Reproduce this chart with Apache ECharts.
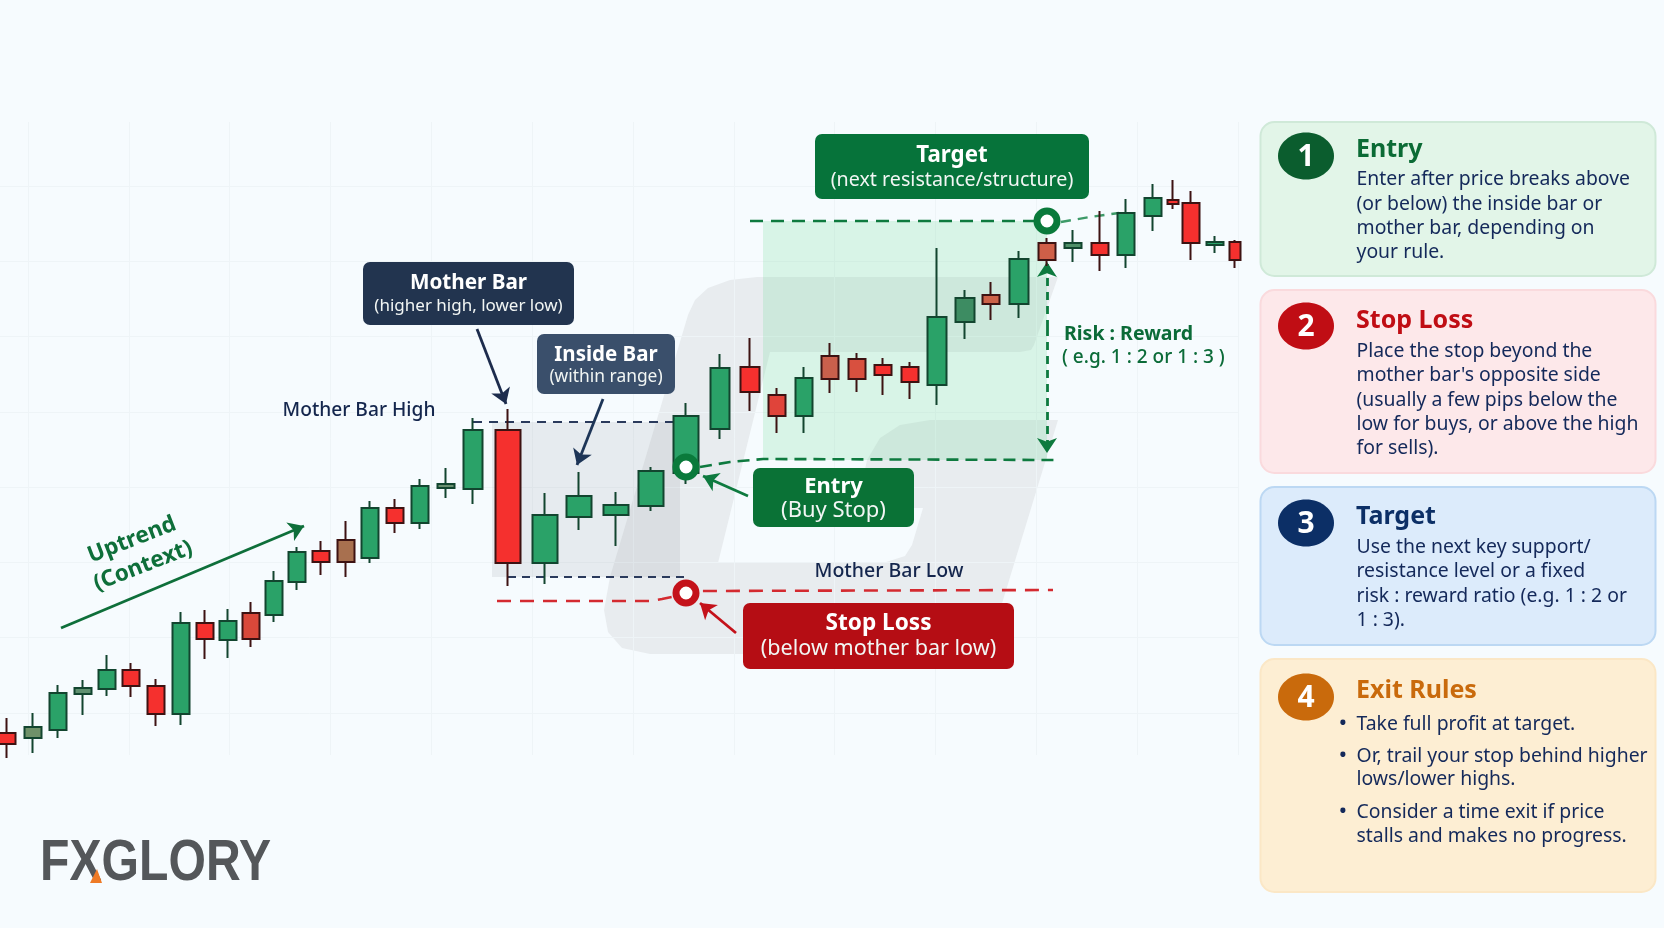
<!DOCTYPE html>
<html><head><meta charset="utf-8"><title>Inside Bar Strategy</title>
<style>html,body{margin:0;padding:0;background:#f6fbfe}#c{width:1664px;height:928px}</style>
<script src="https://cdn.jsdelivr.net/npm/echarts@6/dist/echarts.min.js"></script></head>
<body><div id="c"></div><script>
// ---------- data ----------
const sessions=[7,33,58,83,107,131,156,181,205,228,251,274,297,321,346,370,395,420,446,473,508,545,579,616,651,686,720,750,777,804,830,857,883,910,937,965,991,1019,1047,1073,1100,1126,1153,1173,1191,1215,1235];
const opens =[195,190,198,234,239,258,242,214,305,288,315,313,346,377,388,370,420,405,440,439,498,365,411,413,422,455,499,561,533,512,572,569,563,561,543,606,633,624,685,680,685,673,712,728,725,683,686];
const closes=[184,201,235,240,258,242,214,305,289,307,289,347,376,366,366,420,405,442,444,498,365,413,432,423,457,512,560,536,512,550,549,549,553,546,611,630,624,669,668,685,673,715,730,724,685,686,668];
const lows  =[170,175,190,213,232,231,202,203,269,270,281,306,338,353,351,365,395,399,430,424,342,344,398,382,417,444,489,517,495,495,535,536,533,529,523,589,608,610,662,666,657,660,697,719,668,675,660];
const highs =[210,215,243,248,273,265,249,316,318,319,326,357,381,387,407,427,429,449,460,510,519,435,456,436,461,525,574,590,540,561,585,575,570,566,680,638,646,677,690,698,717,729,744,748,737,692,688];
const wideBars=[20,21,22,23,24,25];
const midBars=[19,26,27,34,35,37];
const thinBars=[43,46];
const mutedBodies={1:'#6f9169',3:'#5f9070',10:'#d9483a',14:'#a8704f',18:'#6a9070',28:'#e0443a',30:'#c9604c',31:'#d8503f',36:'#cc6248',38:'#cf5f48',39:'#4f9068',35:'#3d8c62'};

const motherHigh=[[473,506],[675,506]];
const motherLow=[[508,351],[690,351]];
const stopLevel=[[497,327],[650,327],[662,329],[672,331],[686,335],[700,337],[1053,338]];
const entryLevel=[[700,461],[730,466],[763,469],[1056,468]];
const targetLevel=[[750,707],[1034,707]];
const targetTail=[[1061,706],[1090,711],[1119,715]];
const levelMarks=[[686,461,'#0a7a3b'],[686,335,'#c4121a'],[1047,707,'#0a7a3b']];
const arrows=[
 [61,300,304,402,'#0e6f3a',3],[477,599,506,524,'#1d2c4d',3],[603,529,577,463,'#1d3557',3],
 [748,432,703,452,'#0e7a3f',3],[736,295,700,325,'#c4121a',3],[1047,600,1047,666,'#0e7a3f',0],[1047,600,1047,475,'#0e7a3f',0]];
const shadeGrey=[[492,506],[680,351]];
const shadeGreen=[[763,707],[1047,468]];

const panelTitles=['Entry','Stop Loss','Target','Exit Rules'];
const panelNumbers=['1','2','3','4'];
const panelLines=[
 ['Enter after price breaks above','(or below) the inside bar or','mother bar, depending on','your rule.'],
 ['Place the stop beyond the',"mother bar's opposite side",'(usually a few pips below the','low for buys, or above the high','for sells).'],
 ['Use the next key support/','resistance level or a fixed','risk : reward ratio (e.g. 1 : 2 or','1 : 3).'],
 ['Take full profit at target.','Or, trail your stop behind higher','lows/lower highs.','Consider a time exit if price','stalls and makes no progress.']];
const exitBulletLines=[0,1,3];

// ---------- layout ----------
const F='"Noto Sans",sans-serif';
const txt=(text,x,y,size,fill,weight,align,extra)=>Object.assign({type:'text',x,y,z:60,silent:true,style:{text,fill,fontSize:size,fontWeight:weight||'normal',fontFamily:F,align:align||'left',verticalAlign:'middle'}},extra||{});
const g=[];
// watermark
g.push({type:'polygon',z:-5,silent:true,shape:{points:[[1058,277],[757,277],[730,280],[708,288],[695,300],[688,315],[610,577],[604,610],[608,632],[622,648],[650,654],[960,654],[980,650],[993,632],[1000,610],[1058,420],[930,420],[900,425],[880,438],[867,460],[857,508],[923,508],[912,545],[905,556],[883,563],[718,563],[770,352],[1020,352],[1031,350],[1034,345]]},style:{fill:'#e8ecef'}});
// callouts
const boxes=[
 [815,134,274,65,'#06733a','Target','(next resistance/structure)',156,180,22.3,19.7],
 [363,262,211,63,'#22344f','Mother Bar','(higher high, lower low)',283,306,20.7,17],
 [537,334,138,60,'#3a4f6b','Inside Bar','(within range)',355,377,20.5,17.4],
 [753,468,161,59,'#0a7236','Entry','(Buy Stop)',487,511,22,22],
 [743,603,271,66,'#b50d14','Stop Loss','(below mother bar low)',624,649,22.6,21.6]];
boxes.forEach(b=>{
 g.push({type:'rect',z:55,silent:true,shape:{x:b[0],y:b[1],width:b[2],height:b[3],r:7},style:{fill:b[4]}});
 g.push(txt(b[5],b[0]+b[2]/2,b[7],b[9],'#ffffff','bold','center'));
 g.push(txt(b[6],b[0]+b[2]/2,b[8],b[10],'#f2f6f4','normal','center'));
});
g.push(txt('Mother Bar High',359,411,19.2,'#14264d','500','center'));
g.push(txt('Mother Bar Low',889,571,19.5,'#14264d','500','center'));
g.push(txt('Risk : Reward',1064,334,19.5,'#0b6b38','bold','left'));
g.push(txt('( e.g. 1 : 2 or 1 : 3 )',1062,358,19,'#0b6b38','500','left'));
g.push(txt('Uptrend',132,540,22.5,'#0e6f3a','bold','center',{rotation:0.37}));
g.push(txt('(Context)',143,566,22.5,'#0e6f3a','bold','center',{rotation:0.37}));
// panels
const P=[[122,154,'#e2f5e8','#cfe9d8','#0b5d2e','#0b6b35',156,150,[179,204,228,252]],
 [290,183,'#fde8ea','#fadadd','#c00d14','#c00d14',326,321,[351,375,400,424,448]],
 [487,158,'#dcebfb','#bcd8f3','#0c2f66','#0c2f66',523,517,[547,571,596,620]],
 [659,233,'#fdeed3','#fbe7c6','#c96a0c','#c96a0c',697,691,[724,756,779,812,836]]];
P.forEach((p,i)=>{
 g.push({type:'rect',z:40,silent:true,shape:{x:1260.5,y:p[0],width:395,height:p[1],r:14},style:{fill:p[2],stroke:p[3],lineWidth:2}});
 g.push({type:'ellipse',z:50,silent:true,shape:{cx:1306,cy:p[6],rx:28,ry:23.5},style:{fill:p[4]}});
 g.push(txt(panelNumbers[i],1306,p[6]+1,30,'#ffffff','bold','center'));
 g.push(txt(panelTitles[i],1356,p[7],25,p[5],'bold'));
 panelLines[i].forEach((l,j)=>{
  g.push(txt(l,1356.5,p[8][j],19.4,'#14295a','normal'));
  if(i===3&&exitBulletLines.indexOf(j)>=0) g.push(txt('•',1343,p[8][j],18,'#14295a','bold','center'));
 });
});
// logo
g.push({type:'text',x:40,y:864,z:60,silent:true,scaleX:.845,style:{text:'FXGLORY',fontSize:57,fontWeight:'bold',fontFamily:'"Liberation Sans",sans-serif',fill:'#54575a',align:'left',verticalAlign:'middle'}});
g.push({type:'polygon',z:61,silent:true,shape:{points:[[90,883],[97,869],[102,883]]},style:{fill:'#ee7a26'}});

// ---------- series ----------
const rowOf=i=>{const r={value:[sessions[i],opens[i],closes[i],lows[i],highs[i]]};
 if(mutedBodies[i]){r.itemStyle=closes[i]>=opens[i]?{color:mutedBodies[i]}:{color0:mutedBodies[i]};}return r;};
const other=sessions.map((_,i)=>i).filter(i=>wideBars.concat(midBars,thinBars).indexOf(i)<0);
const candle=(idx,w,name)=>({type:'candlestick',name,xAxisIndex:0,yAxisIndex:0,z:5,barWidth:w,clip:false,animation:false,
 encode:{x:0,y:[1,2,3,4]},data:idx.map(rowOf),
 itemStyle:{color:'#2aa268',color0:'#f5302e',borderColor:'#12452f',borderColor0:'#3d1212',borderWidth:2}});
const level=(name,data,color,w,dash)=>({type:'line',name,xAxisIndex:0,yAxisIndex:0,z:4,symbol:'none',animation:false,silent:true,data,
 lineStyle:{color,width:w,type:dash||[9,7]}});
const series=[
 Object.assign(level('Mother bar high',motherHigh,'#2a3a5c',2),{z:3,markArea:{silent:true,z:1,data:[[{coord:shadeGrey[0],itemStyle:{color:'rgba(120,128,138,0.13)'}},{coord:shadeGrey[1]}],[{coord:shadeGreen[0],itemStyle:{color:'rgba(120,220,160,0.24)'}},{coord:shadeGreen[1]}]]}}),
 level('Mother bar low',motherLow,'#2a3a5c',2,[8,6]),
 level('Stop level',stopLevel,'#d42a30',2.6,[14,9]),
 level('Entry level',entryLevel,'#0e7a3f',2.6,[12,7]),
 level('Target level',targetLevel,'#0e7a3f',2.6,[13,8]),
 level('Target tail',targetTail,'#3d9a68',2.4,[10,7]),
 candle(other,17,'Candles'),candle(wideBars,25,'Mother/inside'),candle(midBars,20,'Breakout'),candle(thinBars,11,'Small'),
 {type:'line',name:'Arrows',xAxisIndex:0,yAxisIndex:0,data:[],z:8,animation:false,silent:true,
  markLine:{silent:true,animation:false,symbol:['none','arrow'],symbolSize:15,label:{show:false},
   data:arrows.map(a=>[{coord:[a[0],a[1]],lineStyle:{color:a[4],width:2.8,type:a[5]?'solid':[8,6]}},{coord:[a[2],a[3]]}])}},
 {type:'scatter',name:'Levels',xAxisIndex:0,yAxisIndex:0,z:9,animation:false,silent:true,symbolSize:20,
  data:levelMarks.map(m=>({value:[m[0],m[1]],itemStyle:{color:'#ffffff',opacity:1,borderColor:m[2],borderWidth:7}}))}
];
const chart=echarts.init(document.getElementById('c'),null,{renderer:'canvas'});
const hid={show:false};
const faint={show:true,showMinLine:true,showMaxLine:true,lineStyle:{color:'#eef4f7',width:1}};
chart.setOption({
 backgroundColor:'#f6fbfe',animation:false,
 grid:[{left:0,top:0,width:1664,height:928},{left:28,width:1210,top:122,height:633},{left:0,width:1238,top:186,height:527}],
 xAxis:[{type:'value',min:0,max:1664,show:false,gridIndex:0},
  {type:'value',min:0,max:12,interval:1,gridIndex:1,axisLine:hid,axisTick:hid,axisLabel:hid,splitLine:faint},
  {type:'value',min:0,max:12,interval:1,gridIndex:2,axisLine:hid,axisTick:hid,axisLabel:hid,splitLine:hid}],
 yAxis:[{type:'value',min:0,max:928,show:false,gridIndex:0},
  {type:'value',min:0,max:7,interval:1,gridIndex:1,axisLine:hid,axisTick:hid,axisLabel:hid,splitLine:hid},
  {type:'value',min:0,max:7,interval:1,gridIndex:2,axisLine:hid,axisTick:hid,axisLabel:hid,splitLine:faint}],
 graphic:{elements:g},
 series
});
</script></body></html>
